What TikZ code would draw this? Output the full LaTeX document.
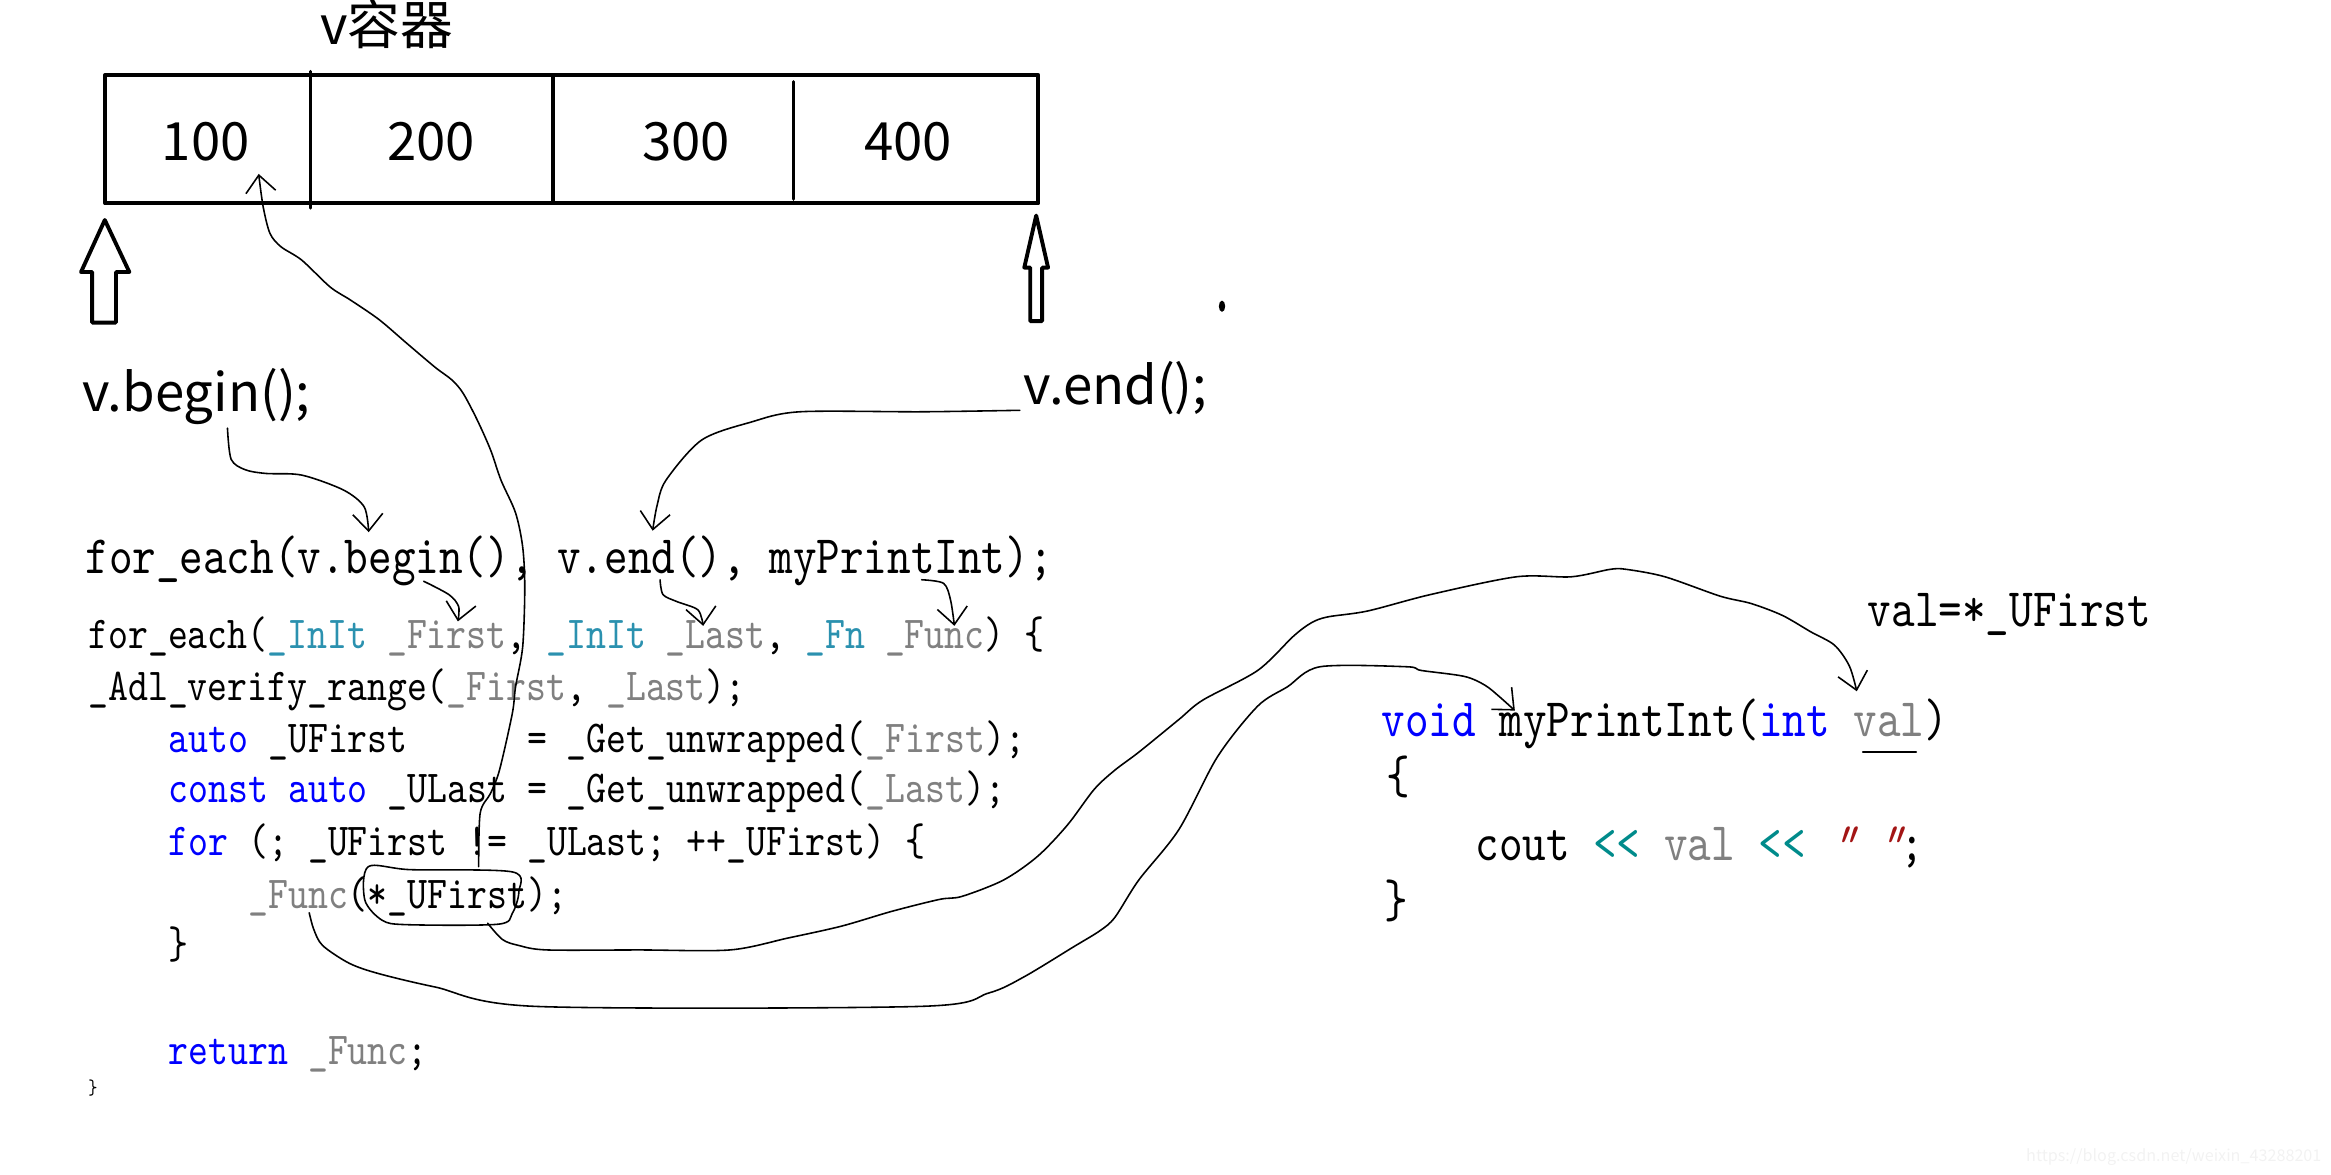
\documentclass[tikz,border=0pt]{standalone}
\usepackage{fontspec}
\usetikzlibrary{arrows.meta}
\setsansfont{Noto Sans CJK SC}
\newfontfamily\codefont[FakeStretch=0.83]{lmmono10-regular.otf}
\newfontfamily\quotefont[FakeStretch=0.83,FakeSlant=0.35]{lmmono10-regular.otf}
\definecolor{kw}{HTML}{0000FF}
\definecolor{ty}{HTML}{2B91AF}
\definecolor{par}{HTML}{808080}
\definecolor{op}{HTML}{008B8B}
\definecolor{str}{HTML}{A31515}
\begin{document}
\begin{tikzpicture}[line join=round, line cap=round, >={Straight Barb[length=1.7mm,width=3mm]},
  x=0.014866cm, y=-0.014866cm,
  lbl/.style={font=\sffamily\fontsize{15}{18}\selectfont, inner sep=0pt},
  codeL/.style={font=\codefont\fontsize{15.4}{18}\selectfont, inner sep=0pt, anchor=base west},
  codeS/.style={font=\codefont\fontsize{13}{15}\selectfont, inner sep=0pt, anchor=base west},
  hand/.style={draw, line width=0.45pt}]
\useasboundingbox (0,0) rectangle (1568,790);
\node[lbl, anchor=base west] (title) at (215,30) {v容器};
\draw[line width=1.2pt] (70.8,50.5) rectangle (698.4,136.8);
\foreach \x/\ya/\yb in {209/48/140, 372/51/136, 534/55/134}{\draw[line width=0.9pt] (\x,\ya) -- (\x,\yb);}
\foreach \x/\v in {138.5/100, 290/200, 461.5/300, 611/400}{\node[lbl, anchor=base] (c\v) at (\x,108) {\v};}
\draw[line width=1.1pt] (70.5,148) -- (87,183) -- (78,183) -- (78,217) -- (62,217) -- (62,183) -- (54.5,183) -- cycle;
\draw[line width=1.1pt] (697,145) -- (705,180) -- (701,180) -- (701,216) -- (693,216) -- (693,180) -- (689,180) -- cycle;
\fill (822,206) ellipse [x radius=0.9pt, y radius=1.6pt];
\node[lbl, anchor=base west] (vbegin) at (55,277) {v.begin();};
\node[lbl, anchor=base west] (vend) at (688,272) {v.end();};
% for_each call and its body
\node[codeL] (call) at (57,385.7) {for\_each(v.begin(), v.end(), myPrintInt);};
\node[codeS] (l2) at (59,436) {for\_each(\textcolor{ty}{\_InIt} \textcolor{par}{\_First}, \textcolor{ty}{\_InIt} \textcolor{par}{\_Last}, \textcolor{ty}{\_Fn} \textcolor{par}{\_Func}) \{};
\node[codeS] (l3) at (59,471) {\_Adl\_verify\_range(\textcolor{par}{\_First}, \textcolor{par}{\_Last});};
\node[codeS] (l4) at (113,506.3) {\textcolor{kw}{auto} \_UFirst~~~~~~= \_Get\_unwrapped(\textcolor{par}{\_First});};
\node[codeS] (l5) at (113,540) {\textcolor{kw}{const} \textcolor{kw}{auto} \_ULast = \_Get\_unwrapped(\textcolor{par}{\_Last});};
\node[codeS] (l6) at (113,575.8) {\textcolor{kw}{for} (; \_UFirst != \_ULast; ++\_UFirst) \{};
\node[codeS] (l7) at (166.6,611) {\textcolor{par}{\_Func}(*\_UFirst);};
\node[codeS] (l8) at (113,645) {\}};
\node[codeS] (l9) at (113,716) {\textcolor{kw}{return} \textcolor{par}{\_Func};};
\node[codeS, font=\codefont\fontsize{6}{7}\selectfont] (l10) at (59,736) {\}};
% myPrintInt
\node[codeL] (sig) at (929,495.5) {\textcolor{kw}{void} myPrintInt(\textcolor{kw}{int} \textcolor{par}{val})};
\node[codeL] (ob) at (932,534) {\{};
\node[codeL] (cout) at (992,578.5) {cout \textcolor{op}{<<} \textcolor{par}{val} \textcolor{op}{<<} \textcolor{str}{\quotefont" "};};
\node[codeL] (cb) at (931,617) {\}};
\node[codeL] (note) at (1256,421.5) {val=*\_UFirst};
\node[anchor=base east, inner sep=0pt, font=\sffamily\fontsize{4.6}{5}\selectfont, text=black!5] (wm) at (1562,781) {https://blog.csdn.net/weixin\_43288201};
% hand drawn connectors
\coordinate (beginTail) at (153,288);
\coordinate (beginTip) at (248,358);
\coordinate (endTail) at (686,276);
\coordinate (endTip) at (439,357);
\coordinate (firstTail) at (285,391);
\coordinate (firstTip) at (308,418);
\coordinate (lastTail) at (444,390);
\coordinate (lastTip) at (473,421);
\coordinate (funcTail) at (620,390);
\coordinate (funcTip) at (642,421);
\coordinate (ringTop) at (322,583);
\coordinate (ringBot) at (328,621);
\coordinate (cellTip) at (174,117);
\coordinate (valTip) at (1249,465);
\coordinate (callTail) at (208,614);
\coordinate (sigTip) at (1019,478);
\draw[hand,->] plot[smooth] coordinates {(beginTail) (155.5,309) (165,316) (179,318.5) (203,319.6) (231,329.6) (245,341) (beginTip)};
\draw[hand,->] plot[smooth] coordinates {(endTail) (620,277) (538,277) (505,284) (472,296) (448,323) (442,340) (endTip)};
\draw[hand,->] plot[smooth] coordinates {(firstTail) (302,400) (308.5,408) (firstTip)};
\draw[hand,->] plot[smooth] coordinates {(lastTail) (446,400) (455.4,404.7) (469.5,410.3) (lastTip)};
\draw[hand,->] plot[smooth] coordinates {(funcTail) (634.7,392.4) (639.4,403.6) (funcTip)};
\draw[hand,->] plot[smooth] coordinates {(ringTop) (323,547) (330,533.6) (336,518) (344.6,480) (346.8,462) (351.6,435) (353,395) (351.6,368) (346.8,345) (337,323) (330,302.7) (321,282.5) (311.5,264.5) (304,255.6) (292.6,247) (273.7,231) (255,215) (236,202) (222,193) (203,175) (189,166) (181.6,157) (177,139) (cellTip)};
\draw[hand] plot[smooth cycle] coordinates {(247.7,583) (276,585) (344.6,586.5) (349,600) (344.6,614.4) (335,621.7) (273.6,622) (257,619) (245.4,605.4)};
\draw[hand,->] plot[smooth] coordinates {(ringBot) (338,632) (349,636) (368,639) (430,639) (491,639) (530,631) (566,623) (600,613) (632,605) (647,603) (675,592) (698,576) (718,555) (736,531) (750,518) (766,506) (793,484) (809,471) (846,451) (870,428) (882,419) (893,415) (920,411) (962,400) (1020,388) (1057,388) (1083,383) (1094,383) (1120,388) (1157,401) (1178,406) (1199,414) (1218,425) (1234,434) (1244,448) (valTip)};
\draw[hand,->] plot[smooth] coordinates {(callTail) (211,625) (217,636) (235,648) (255,655) (293,664) (361,677) (618,677) (665,668) (689,657) (722,637) (740,626) (750,617) (766,592) (793,558) (819,509) (846,475) (866,462) (888,448.5) (946,448.5) (956,451) (985,455) (999,461) (1009,469) (sigTip)};
\draw[hand] (1253,506) -- (1289,506);
\end{tikzpicture}
\end{document}
